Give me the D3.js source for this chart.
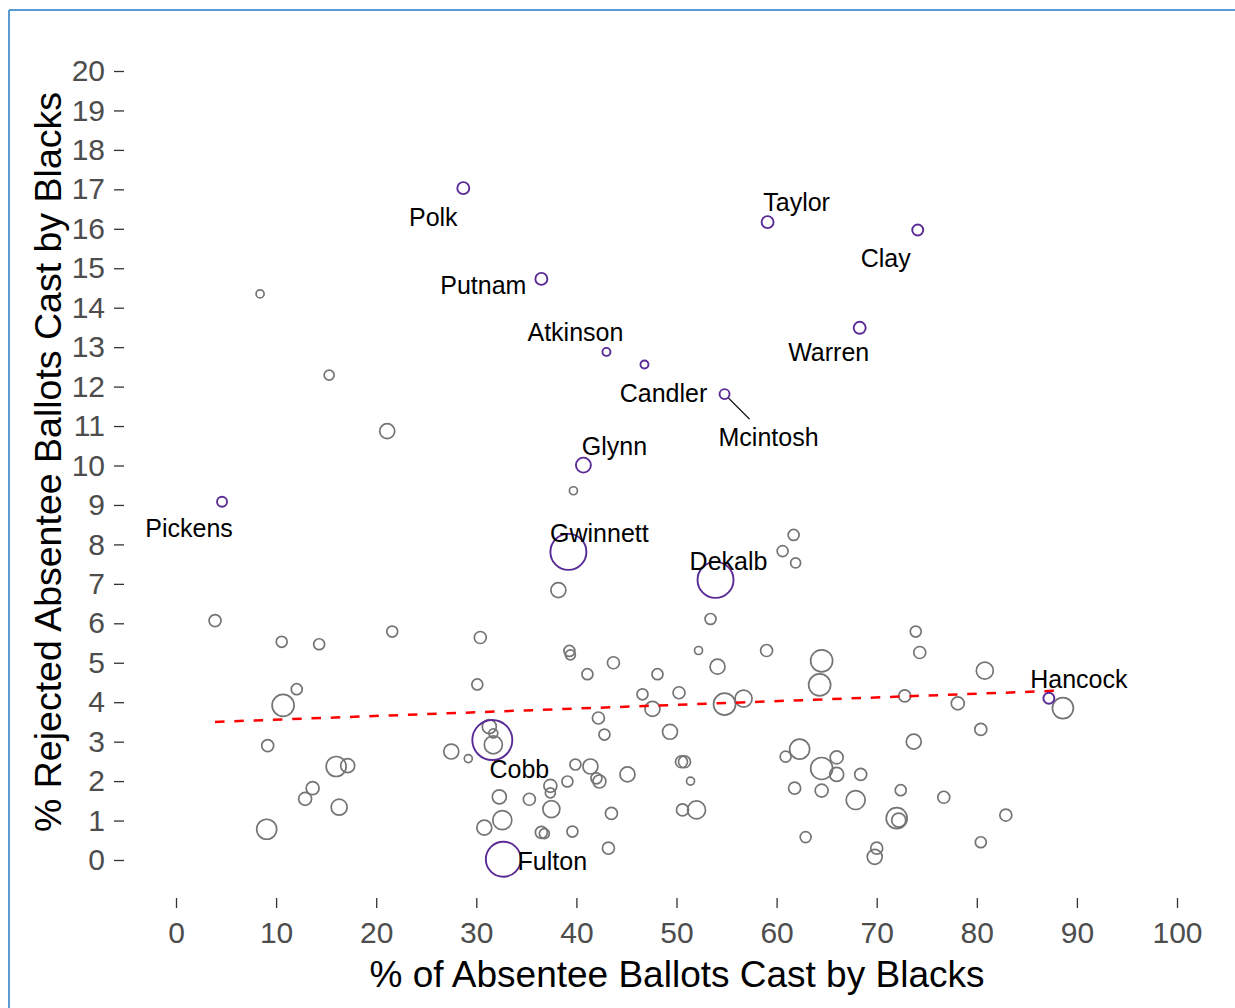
<!DOCTYPE html>
<html>
<head>
<meta charset="utf-8">
<script src="https://cdn.jsdelivr.net/npm/d3@7"></script>
<style>
  html, body { margin: 0; padding: 0; background: #ffffff; }
  svg { display: block; }
</style>
</head>
<body>
<svg id="chart" width="1235" height="1008"></svg>
<script>
// ---------------- DATA ----------------
// Highlighted (labelled) counties
const hlNames    = ["Polk","Taylor","Clay","Putnam","Warren","Atkinson","Candler","Mcintosh","Glynn","Pickens","Gwinnett","Dekalb","Cobb","Fulton","Hancock"];
const hlPctBlack = [28.7, 59.1, 74.1, 36.5, 68.3, 43.0, 46.8, 54.8, 40.7, 4.6, 39.2, 53.9, 31.6, 32.7, 87.2];
const hlPctRej   = [17.03, 16.17, 15.97, 14.73, 13.49, 12.88, 12.56, 11.81, 10.01, 9.08, 7.81, 7.10, 3.04, 0.02, 4.10];
const hlBallots  = [36, 36, 30, 36, 36, 16, 16, 25, 56, 25, 324, 324, 400, 306, 30];

// Other counties
const otPctBlack = [8.4,15.3,21.1,39.7,61.7,60.6,61.9,38.2,3.9,10.56,14.3,21.6,12.06,10.7,9.16,16.0,17.15,13.65,12.9,16.3,
  9.06,27.5,30.4,30.1,39.3,39.4,43.7,41.1,48.1,46.6,50.25,47.6,42.2,42.8,49.35,31.3,31.7,31.7,29.2,39.9,
  41.4,42.3,42.0,39.1,37.4,37.4,45.1,32.3,35.3,37.5,32.6,30.8,36.5,36.8,39.6,43.5,43.2,50.5,50.8,51.4,
  50.6,52.0,53.4,52.2,59.0,54.1,54.8,56.7,64.5,64.3,73.9,74.3,72.8,73.7,62.3,60.9,64.5,66.0,66.0,68.4,
  61.8,64.5,67.9,72.4,76.7,72.0,72.2,62.9,70.0,69.8,80.8,78.1,80.4,88.6,82.9,80.4];
const otPctRej   = [14.35,12.29,10.87,9.36,8.24,7.83,7.53,6.84,6.07,5.53,5.47,5.79,4.33,3.92,2.90,2.37,2.39,1.82,1.55,1.34,
  0.78,2.75,5.64,4.45,5.30,5.20,5.00,4.71,4.71,4.20,4.24,3.83,3.60,3.18,3.25,3.38,3.21,2.92,2.57,2.42,
  2.37,1.99,2.07,1.99,1.88,1.70,2.17,1.60,1.54,1.29,1.01,0.82,0.70,0.67,0.72,1.18,0.30,2.49,2.49,2.00,
  1.27,1.27,6.11,5.31,5.31,4.90,3.95,4.09,5.05,4.44,5.79,5.26,4.16,3.00,2.81,2.62,2.32,2.60,2.17,2.17,
  1.82,1.76,1.52,1.77,1.59,1.06,1.01,0.58,0.30,0.08,4.80,3.97,3.31,3.85,1.14,0.45];
const otBallots  = [16,25,56,16,30,30,25,56,36,30,30,30,30,121,36,100,49,42,42,64,
  100,56,36,30,30,25,36,30,30,30,36,56,36,30,56,49,20,81,16,30,
  56,42,30,30,42,25,56,49,36,72,90,56,36,25,30,36,36,36,36,16,
  36,81,30,16,36,56,121,72,121,121,30,36,36,56,100,30,121,42,49,36,
  36,42,90,30,36,110,49,30,36,56,72,42,36,110,36,30];

// Fitted trend line (dashed red)
const trendPctBlack = [3.9, 88.0];
const trendPctRej   = [3.50, 4.29];

// Axis ticks
const xTicks = [0,10,20,30,40,50,60,70,80,90,100];
const yTicks = d3.range(0, 21, 1);

const xTitle = "% of Absentee Ballots Cast by Blacks";
const yTitle = "% Rejected Absentee Ballots Cast by Blacks";

// ---------------- LAYOUT (label offsets, px) ----------------
const labelOffset = {
  Polk:[-30,29], Taylor:[29,-20], Clay:[-32,28], Putnam:[-58,6], Warren:[-31,24],
  Atkinson:[-31,-20], Candler:[19,28], Mcintosh:[44,43], Glynn:[31,-19], Pickens:[-33,26],
  Gwinnett:[31,-19], Dekalb:[13,-19], Cobb:[27,29], Fulton:[49,2], Hancock:[30,-19]
};

// ---------------- DRAW ----------------
const svg = d3.select("#chart");
svg.append("rect").attr("width",1235).attr("height",1008).attr("fill","#fff");

// screenshot frame
svg.append("line").attr("x1",9).attr("x2",1235).attr("y1",10).attr("y2",10)
   .attr("stroke","#5b9bd5").attr("stroke-width",2);
svg.append("line").attr("x1",9).attr("x2",9).attr("y1",10).attr("y2",1008)
   .attr("stroke","#5b9bd5").attr("stroke-width",2);

const x = d3.scaleLinear().domain([0,100]).range([176,1177]);
const y = d3.scaleLinear().domain([0,20]).range([860,71]);
const r = d3.scaleSqrt().domain([0,400]).range([0,20]);

const tickColor = "#333333", labColor = "#4d4d4d";
const font = "'Liberation Sans', Arial, sans-serif";

// Y axis
const gy = svg.append("g").attr("transform","translate(124,0)")
  .call(d3.axisLeft(y).tickValues(yTicks).tickSize(10).tickPadding(9).tickFormat(d3.format("d")));
gy.select(".domain").remove();
gy.selectAll("line").attr("stroke",tickColor).attr("stroke-width",1.3);
gy.selectAll("text").attr("fill",labColor).style("font-family",font).style("font-size","30px");

// X axis
const gx = svg.append("g").attr("transform","translate(0,898)")
  .call(d3.axisBottom(x).tickValues(xTicks).tickSize(10).tickPadding(14).tickFormat(d3.format("d")));
gx.select(".domain").remove();
gx.selectAll("line").attr("stroke",tickColor).attr("stroke-width",1.3);
gx.selectAll("text").attr("fill",labColor).style("font-family",font).style("font-size","30px");

// Titles
svg.append("text").attr("x",677).attr("y",987).attr("text-anchor","middle")
  .attr("fill","#000").style("font-family",font).style("font-size","37px").text(xTitle);
svg.append("text").attr("transform","translate(61,462) rotate(-90)").attr("text-anchor","middle")
  .attr("fill","#000").style("font-family",font).style("font-size","37.5px").text(yTitle);

// Other points
const others = otPctBlack.map((v,i)=>({x:v, y:otPctRej[i], s:otBallots[i]}));
svg.append("g").selectAll("circle").data(others).join("circle")
  .attr("cx",d=>x(d.x)).attr("cy",d=>y(d.y)).attr("r",d=>r(d.s))
  .attr("fill","none").attr("stroke","#747474").attr("stroke-width",1.7);

// Trend line
const trend = trendPctBlack.map((v,i)=>[v, trendPctRej[i]]);
svg.append("path").datum(trend)
  .attr("d", d3.line().x(d=>x(d[0])).y(d=>y(d[1])))
  .attr("fill","none").attr("stroke","#ff0000").attr("stroke-width",2.5)
  .attr("stroke-dasharray","9.5,9.8");

// Highlighted points
const hl = hlNames.map((n,i)=>({name:n, x:hlPctBlack[i], y:hlPctRej[i], s:hlBallots[i]}));
svg.append("g").selectAll("circle").data(hl).join("circle")
  .attr("cx",d=>x(d.x)).attr("cy",d=>y(d.y)).attr("r",d=>r(d.s))
  .attr("fill","none").attr("stroke","#5a2a96").attr("stroke-width",1.9);

// Leader line for Mcintosh
const mc = hl.find(d=>d.name==="Mcintosh");
svg.append("line")
  .attr("x1",x(mc.x)+4).attr("y1",y(mc.y)+4)
  .attr("x2",x(mc.x)+25).attr("y2",y(mc.y)+25)
  .attr("stroke","#000").attr("stroke-width",1.3);

// Labels
svg.append("g").selectAll("text").data(hl).join("text")
  .attr("x",d=>x(d.x)+labelOffset[d.name][0])
  .attr("y",d=>y(d.y)+labelOffset[d.name][1])
  .attr("dy","0.36em").attr("text-anchor","middle")
  .attr("fill","#000").style("font-family",font).style("font-size","25px")
  .text(d=>d.name);
</script>
</body>
</html>
